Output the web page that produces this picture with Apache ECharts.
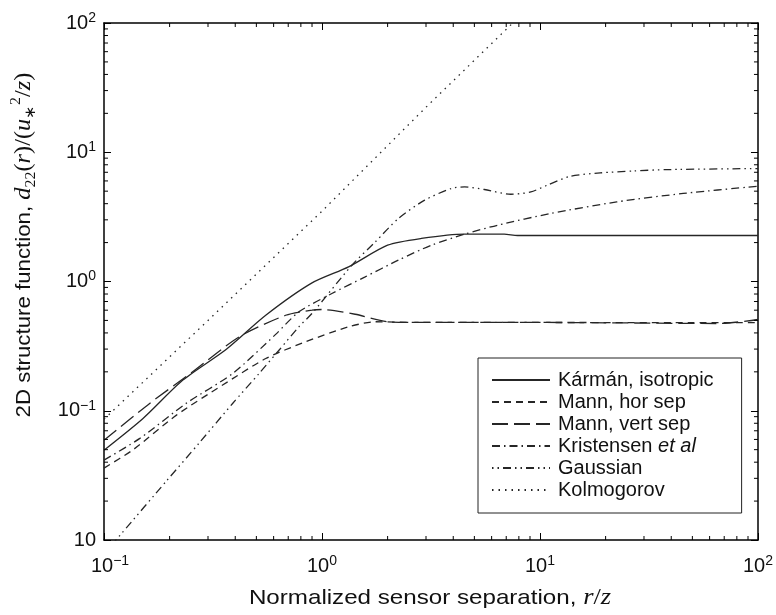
<!DOCTYPE html>
<html><head><meta charset="utf-8">
<script src="https://cdn.jsdelivr.net/npm/echarts@6/dist/echarts.min.js"></script>
<style>html,body{margin:0;padding:0;background:#fff}#c{width:776px;height:615px}</style>
</head><body><div id="c"></div>
<script>
// ---- data ----
const seriesNames = ['Kármán, isotropic', 'Mann, hor sep', 'Mann, vert sep', 'Kristensen et al', 'Gaussian', 'Kolmogorov'];

const karmanR = [0.1, 0.151, 0.23, 0.363, 0.552, 0.9, 1.324, 2.0, 2.858, 4.51, 6.85, 7.89, 100];
const karmanD = [0.0495, 0.0871, 0.1726, 0.298, 0.548, 0.975, 1.297, 1.91, 2.153, 2.323, 2.323, 2.27, 2.27];

const mannHorR = [0.1, 0.1355, 0.215, 0.35, 0.552, 0.839, 1.324, 1.754, 2.76, 10, 50, 100];
const mannHorD = [0.036, 0.0497, 0.0925, 0.158, 0.2535, 0.341, 0.446, 0.488, 0.482, 0.482, 0.48, 0.48];

const mannVertR = [0.1, 0.162, 0.255, 0.417, 0.681, 0.9, 0.998, 1.419, 2.014, 2.667, 10.45, 66.7, 100];
const mannVertD = [0.059, 0.114, 0.2, 0.373, 0.548, 0.6, 0.607, 0.558, 0.487, 0.482, 0.482, 0.473, 0.508];

const kristR = [0.1, 0.146, 0.238, 0.389, 0.613, 0.783, 1.11, 1.578, 2.239, 3.177, 4.51, 6.4, 11.2, 22.5, 45.4, 100];
const kristD = [0.0415, 0.0611, 0.114, 0.194, 0.39, 0.582, 0.807, 1.086, 1.462, 1.91, 2.323, 2.729, 3.359, 4.13, 4.8, 5.46];

const gaussR = [0.1, 0.1205, 0.193, 0.274, 0.389, 0.514, 0.635, 0.783, 0.899, 1.371, 1.754, 2.239, 2.958, 3.917, 4.51, 5.56, 7.35, 9.08, 10.8, 13.8, 18.9, 26.9, 38.1, 100];
const gaussD = [0.0078, 0.01125, 0.0285, 0.0566, 0.1138, 0.194, 0.294, 0.446, 0.565, 1.337, 2.02, 3.07, 4.26, 5.24, 5.4, 5.15, 4.73, 4.93, 5.56, 6.52, 6.92, 7.17, 7.34, 7.48];

const kolR = [0.1, 0.3, 1, 3, 7.5];
const kolD = [0.086, 0.5, 3.5, 22.3, 100];

const xTicks = [0.1, 1, 10, 100];
const xTickSup = ['\u22121', '0', '1', '2'];
const yTicks = [0.01, 0.1, 1, 10, 100];
const yTickSup = ['', '\u22121', '0', '1', '2'];

// ---- helpers ----
const pair = (a, b) => a.map((v, i) => [v, b[i]]);
const ink = '#262626';
const sansF = 'Liberation Sans';
const serifF = 'Liberation Serif';

function nearestIdx(ticks, v) {
  let best = 0;
  for (let i = 0; i < ticks.length; i++) {
    if (Math.abs(Math.log10(ticks[i]) - Math.log10(v)) < Math.abs(Math.log10(ticks[best]) - Math.log10(v))) best = i;
  }
  return best;
}
function xFmt(v) {
  const i = nearestIdx(xTicks, v);
  return (i === 0 ? '{p|}' : '') + '{b|10}{s|' + xTickSup[i] + '}';
}
function yFmt(v) {
  const s = yTickSup[nearestIdx(yTicks, v)];
  return s ? '{b|10}{s|' + s + '}' : '{b|10}';
}
const tickRich = {
  b: { fontFamily: sansF, fontSize: 20, color: '#111', lineHeight: 24 },
  s: { fontFamily: sansF, fontSize: 14, color: '#111', lineHeight: 10, verticalAlign: 'top' },
  p: { width: 12, lineHeight: 24 }
};

const minorX = [], minorY = [];
for (let e = -1; e < 2; e++) for (let m = 2; m <= 9; m++) minorX.push(m * Math.pow(10, e));
for (let e = -2; e < 2; e++) for (let m = 2; m <= 9; m++) minorY.push(m * Math.pow(10, e));

function minorXRender(params, api) {
  const cs = params.coordSys;
  const px = api.coord([api.value(0), 1])[0];
  const b = cs.y + cs.height, t = cs.y;
  return { type: 'group', children: [
    { type: 'line', shape: { x1: px, y1: b, x2: px, y2: b - 4 }, style: { stroke: '#000', lineWidth: 1 } },
    { type: 'line', shape: { x1: px, y1: t, x2: px, y2: t + 4 }, style: { stroke: '#000', lineWidth: 1 } }
  ]};
}
function minorYRender(params, api) {
  const cs = params.coordSys;
  const py = api.coord([1, api.value(1)])[1];
  const l = cs.x, r = cs.x + cs.width;
  return { type: 'group', children: [
    { type: 'line', shape: { x1: l, y1: py, x2: l + 4, y2: py }, style: { stroke: '#000', lineWidth: 1 } },
    { type: 'line', shape: { x1: r, y1: py, x2: r - 4, y2: py }, style: { stroke: '#000', lineWidth: 1 } }
  ]};
}

const axisLine = { show: true, lineStyle: { color: '#000', width: 1.5 } };
const majorTick = { show: true, inside: true, length: 7, lineStyle: { color: '#000', width: 1 } };

function lineSeries(name, r, d, type) {
  return {
    name: name, type: 'line', data: pair(r, d), showSymbol: false, symbol: 'none',
    smooth: name === 'Kolmogorov' ? false : 0.25, clip: true,
    lineStyle: { color: ink, width: 1.3, type: type },
    itemStyle: { color: ink }, z: 3
  };
}

const chart = echarts.init(document.getElementById('c'), null, { renderer: 'canvas' });
chart.setOption({
  animation: false,
  backgroundColor: '#fff',
  grid: { left: 104, right: 14, top: 23, bottom: 75, containLabel: false },
  xAxis: [
    { type: 'log', logBase: 10, min: 0.1, max: 100, position: 'bottom',
      axisLine: axisLine, axisTick: majorTick, splitLine: { show: false }, minorTick: { show: false },
      axisLabel: { formatter: xFmt, rich: tickRich, margin: 14, showMinLabel: true, showMaxLabel: true } },
    { type: 'log', logBase: 10, min: 0.1, max: 100, position: 'top',
      axisLine: axisLine, axisTick: majorTick, splitLine: { show: false }, axisLabel: { show: false } }
  ],
  yAxis: [
    { type: 'log', logBase: 10, min: 0.01, max: 100, position: 'left',
      axisLine: axisLine, axisTick: majorTick, splitLine: { show: false },
      axisLabel: { formatter: yFmt, rich: tickRich, margin: 8, showMinLabel: true, showMaxLabel: true } },
    { type: 'log', logBase: 10, min: 0.01, max: 100, position: 'right',
      axisLine: axisLine, axisTick: majorTick, splitLine: { show: false }, axisLabel: { show: false } }
  ],
  legend: {
    data: seriesNames, orient: 'vertical', left: 478, top: 358,
    backgroundColor: '#fff', borderColor: '#222', borderWidth: 1, borderRadius: 0,
    padding: [11, 28, 12, 13], itemWidth: 58, itemHeight: 14, itemGap: 0,
    itemStyle: { opacity: 0, borderWidth: 0 },
    textStyle: { fontFamily: sansF, fontSize: 20, color: '#111', lineHeight: 22, padding: [0, 0, 0, 3],
      rich: { i: { fontFamily: sansF, fontSize: 20, fontStyle: 'italic', color: '#111', lineHeight: 22 } } },
    formatter: function (n) { return n === 'Kristensen et al' ? 'Kristensen {i|et al}' : n; },
    selectedMode: false
  },
  graphic: [
    { type: 'text', x: 430, y: 598, scaleX: 1.15, style: {
        text: '{t|Normalized sensor separation, }{m|r}{u|/}{m|z}',
        align: 'center', verticalAlign: 'middle',
        rich: {
          t: { fontFamily: sansF, fontSize: 21, fill: '#111', lineHeight: 28 },
          m: { fontFamily: serifF, fontStyle: 'italic', fontSize: 23, fill: '#111', lineHeight: 28 },
          u: { fontFamily: serifF, fontSize: 23, fill: '#111', lineHeight: 28 }
        } } },
    { type: 'text', x: 24, y: 245, rotation: Math.PI / 2, scaleX: 1.06, style: {
        text: '{t|2D structure function, }{m|d}{sub|22}{u|(}{m|r}{u|)/(}{m|u}{sub|\u2217}{sup|2}{u|/}{m|z}{u|)}',
        align: 'center', verticalAlign: 'middle',
        rich: {
          t: { fontFamily: sansF, fontSize: 21, fill: '#111', lineHeight: 30 },
          m: { fontFamily: serifF, fontStyle: 'italic', fontSize: 23, fill: '#111', lineHeight: 30 },
          u: { fontFamily: serifF, fontSize: 23, fill: '#111', lineHeight: 30 },
          sub: { fontFamily: serifF, fontSize: 15, fill: '#111', lineHeight: 20, verticalAlign: 'bottom' },
          sup: { fontFamily: serifF, fontSize: 15, fill: '#111', lineHeight: 16, verticalAlign: 'top' }
        } } }
  ],
  series: [
    lineSeries('Kármán, isotropic', karmanR, karmanD, 'solid'),
    lineSeries('Mann, hor sep', mannHorR, mannHorD, [7, 5]),
    lineSeries('Mann, vert sep', mannVertR, mannVertD, [16, 6]),
    lineSeries('Kristensen et al', kristR, kristD, [8, 4, 1.5, 4]),
    lineSeries('Gaussian', gaussR, gaussD, [1.5, 4, 1.5, 4, 8, 4]),
    lineSeries('Kolmogorov', kolR, kolD, [1.5, 5]),
    { type: 'custom', name: 'minorX', data: minorX.map(v => [v, 1]), renderItem: minorXRender, silent: true, z: 4 },
    { type: 'custom', name: 'minorY', data: minorY.map(v => [1, v]), renderItem: minorYRender, silent: true, z: 4 }
  ]
});
</script></body></html>
